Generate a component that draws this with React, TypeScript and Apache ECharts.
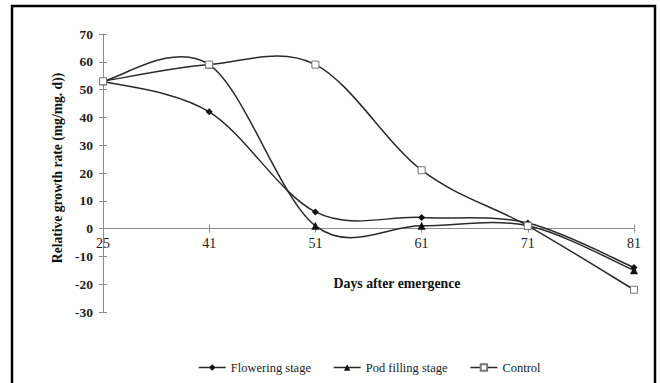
import React, { useEffect, useRef } from "react";
import * as echarts from "echarts";

const days = ["25", "41", "51", "61", "71", "81"];
const flowering = [53, 42, 6, 4, 2, -14];
const podFilling = [53, 59, 1, 1, 1, -15];
const control = [53, 59, 59, 21, 1, -22];
const yTicks = { min: -30, max: 70, interval: 10 };

const FONT = "Liberation Serif";
const LINE_COLOR = "#2a2a2a";
const AXIS_COLOR = "#8c8c8c";

function curveSeries(values: number[], id: string) {
  return {
    id,
    type: "custom",
    xAxisIndex: 0,
    yAxisIndex: 0,
    z: 1,
    silent: true,
    data: values.map((v, i) => [i, v]),
    encode: { x: 0, y: 1 },
    renderItem: (params: any, api: any) => {
      if (params.dataIndex !== 0) return null;
      const pts = values.map((v, i) => api.coord([i, v]));
      const n = pts.length;
      let d = `M${pts[0][0]},${pts[0][1]}`;
      for (let i = 0; i < n - 1; i++) {
        const p0 = pts[Math.max(i - 1, 0)];
        const p1 = pts[i];
        const p2 = pts[i + 1];
        const p3 = pts[Math.min(i + 2, n - 1)];
        const c1x = p1[0] + (p2[0] - p0[0]) / 6;
        const c1y = p1[1] + (p2[1] - p0[1]) / 6;
        const c2x = p2[0] - (p3[0] - p1[0]) / 6;
        const c2y = p2[1] - (p3[1] - p1[1]) / 6;
        d += ` C${c1x},${c1y} ${c2x},${c2y} ${p2[0]},${p2[1]}`;
      }
      return {
        type: "path",
        shape: { pathData: d },
        style: { fill: "none", stroke: LINE_COLOR, lineWidth: 1.5 },
      };
    },
  };
}

const hiddenAxis = {
  axisLine: { show: false, onZero: false },
  axisTick: { show: false },
  axisLabel: { show: false },
  splitLine: { show: false },
};

export default function App() {
  const ref = useRef<HTMLDivElement>(null);
  useEffect(() => {
    document.body.style.margin = "0";
    const chart = echarts.init(ref.current!, null, { renderer: "svg" });
    const fullBox = { left: 103, right: 26, top: 34, height: 278 };
    const upperBox = { left: 103, right: 26, top: 34, height: 278 * (yTicks.max / (yTicks.max - yTicks.min)) };
    chart.setOption({
      animation: false,
      backgroundColor: "#ffffff",
      grid: [fullBox, fullBox, upperBox, upperBox],
      textStyle: { fontFamily: FONT },
      legend: {
        left: 193,
        top: 356,
        itemWidth: 27,
        itemHeight: 8,
        itemGap: 22,
        textStyle: { fontFamily: FONT, fontSize: 12.5, color: "#222" },
        lineStyle: { color: LINE_COLOR, width: 1.5, opacity: 1 },
        data: ["Flowering stage", "Pod filling stage", "Control"],
      },
      xAxis: [
        { type: "category", gridIndex: 0, data: days, boundaryGap: false, ...hiddenAxis },
        { type: "category", gridIndex: 1, data: days, boundaryGap: false, ...hiddenAxis },
        {
          type: "category",
          gridIndex: 2,
          data: days,
          boundaryGap: false,
          axisLine: { onZero: false, lineStyle: { color: AXIS_COLOR, width: 1 } },
          axisTick: { show: true, inside: false, length: 4, lineStyle: { color: AXIS_COLOR } },
          axisLabel: { fontFamily: FONT, fontSize: 14, color: "#222", margin: 8 },
          splitLine: { show: false },
        },
        {
          type: "category",
          gridIndex: 3,
          data: days,
          boundaryGap: false,
          axisLine: { show: false, onZero: false },
          axisTick: { show: true, inside: true, length: 4, lineStyle: { color: AXIS_COLOR } },
          axisLabel: { show: false },
          splitLine: { show: false },
        },
      ],
      yAxis: [
        {
          type: "value",
          gridIndex: 0,
          ...yTicks,
          axisLine: { show: true, onZero: false, lineStyle: { color: AXIS_COLOR, width: 1 } },
          axisTick: { show: true, inside: false, length: 4, lineStyle: { color: AXIS_COLOR } },
          axisLabel: { fontFamily: FONT, fontSize: 13.5, fontWeight: "bold", color: "#222", margin: 10 },
          splitLine: { show: false },
        },
        {
          type: "value",
          gridIndex: 1,
          ...yTicks,
          axisLine: { show: false, onZero: false },
          axisTick: { show: true, inside: true, length: 4, lineStyle: { color: AXIS_COLOR } },
          axisLabel: { show: false },
          splitLine: { show: false },
        },
        { type: "value", gridIndex: 2, min: 0, max: yTicks.max, interval: 10, ...hiddenAxis },
        { type: "value", gridIndex: 3, min: 0, max: yTicks.max, interval: 10, ...hiddenAxis },
      ],
      graphic: [
        {
          type: "rect",
          shape: { x: 12, y: 6, width: 643, height: 420 },
          style: { fill: "none", stroke: "#000", lineWidth: 2.5 },
          silent: true,
        },
        {
          type: "text",
          x: 397,
          y: 283,
          style: {
            text: "Days after emergence",
            fontFamily: FONT,
            fontSize: 13.8,
            fontWeight: "bold",
            fill: "#111",
            align: "center",
            verticalAlign: "middle",
          },
        },
        {
          type: "text",
          x: 57,
          y: 168,
          rotation: Math.PI / 2,
          style: {
            text: "Relative growth rate (mg/mg. d))",
            fontFamily: FONT,
            fontSize: 13.6,
            fontWeight: "bold",
            fill: "#111",
            align: "center",
            verticalAlign: "middle",
          },
        },
      ],
      series: [
        curveSeries(flowering, "c1"),
        curveSeries(podFilling, "c2"),
        curveSeries(control, "c3"),
        {
          name: "Flowering stage",
          type: "line",
          data: flowering,
          z: 3,
          symbol: "diamond",
          symbolSize: 7,
          itemStyle: { color: "#111" },
          lineStyle: { color: LINE_COLOR, width: 1.5, opacity: 0 },
        },
        {
          name: "Pod filling stage",
          type: "line",
          data: podFilling,
          z: 3,
          symbol: "triangle",
          symbolSize: 8,
          itemStyle: { color: "#111" },
          lineStyle: { color: LINE_COLOR, width: 1.5, opacity: 0 },
        },
        {
          name: "Control",
          type: "line",
          data: control,
          z: 3,
          symbol: "rect",
          symbolSize: 7,
          itemStyle: { color: "#ffffff", borderColor: "#777", borderWidth: 1 },
          lineStyle: { color: LINE_COLOR, width: 1.5, opacity: 0 },
        },
      ],
    });
    return () => chart.dispose();
  }, []);
  return <div ref={ref} style={{ width: 660, height: 383 }} />;
}
